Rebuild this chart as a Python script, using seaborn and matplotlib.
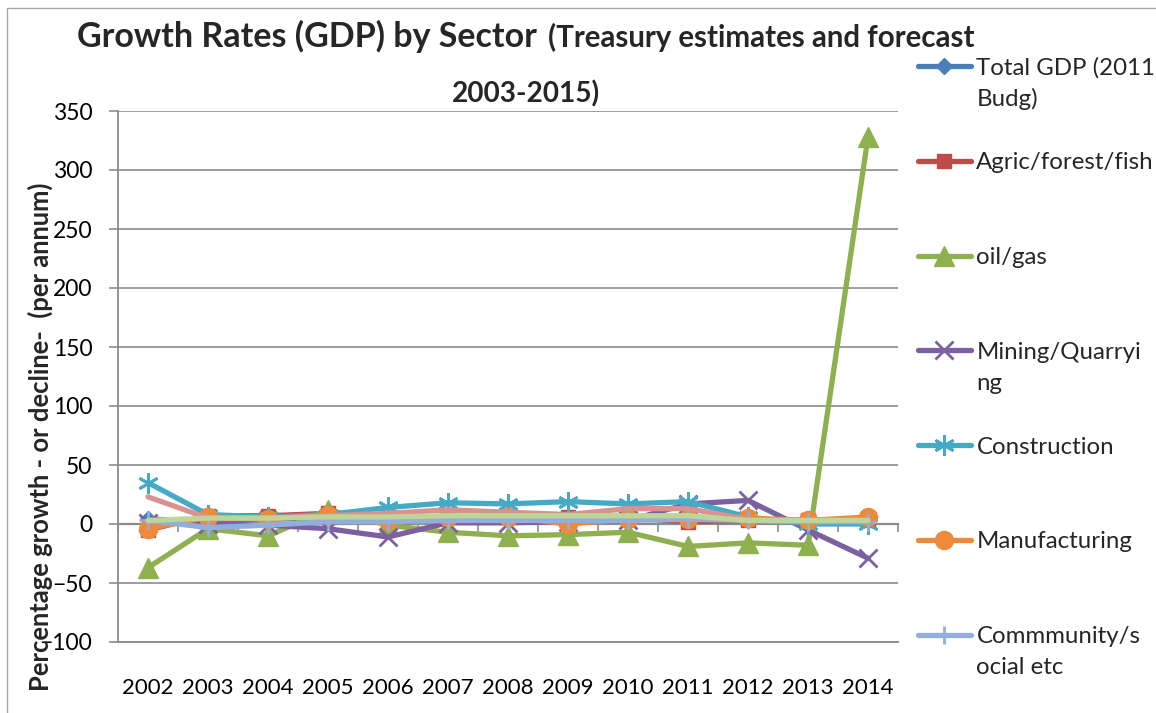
import numpy as np
import pandas as pd
import matplotlib
matplotlib.use("Agg")
import matplotlib.pyplot as plt
import seaborn as sns
from matplotlib.patches import Rectangle

# ---------------- data ----------------
years = ["2002", "2003", "2004", "2005", "2006", "2007", "2008",
         "2009", "2010", "2011", "2012", "2013", "2014"]
total_gdp = [4, 3, 4, 5, 5, 6, 5, 4, 5, 5, 4, 3, 4]
agric = [-5, 7, 7, 9, 0, 6, 6, 6, 5, 2, 3, 3, 3]
oil_gas = [-37, -4, -10, 12, -1, -7, -10, -9, -7, -19, -16, -18, 328]
mining = [1, 0, -1, -4, -11, 1, 1, 2, 3, 17, 20, -5, -29]
construction = [35, 8, 6, 8, 14, 18, 17, 19, 17, 19, 6, 0, 0]
manufacturing = [-4, 6, 4, 8, 3, 6, 6, 0, 4, 4, 5, 3, 6]
community = [3, -3, -1, 2, 2, 3, 3, 3, 3, 4, 3, 2, 2]
unnamed_pink = [23, 5, 5, 7, 9, 12, 10, 8, 13, 13, 4, 3, 3]
unnamed_green = [3, 5, 5, 6, 6, 7, 7, 7, 7, 7, 3, 3, 3]

legend_first = ["Total GDP (2011", "Agric/forest/fish", "oil/gas",
                "Mining/Quarryi", "Construction", "Manufacturing", "Commmunity/s"]
legend_second = ["Budg)", "", "", "ng", "", "", "ocial etc"]

# ---------------- style ----------------
sns.set_theme(style="white")
plt.rcParams["font.family"] = ["Lato", "DejaVu Sans"]

W, H = 1156, 713
fig = plt.figure(figsize=(W / 100, H / 100), dpi=100)
ax = fig.add_axes([118 / W, 1 - 642 / H, 780 / W, 531 / H])

x = np.arange(len(years))
specs = [
    (legend_first[0], total_gdp, "#4A7EBB", "D", 8, 1.0, True),
    (legend_first[1], agric, "#BE4B48", "s", 10, 1.0, True),
    (legend_first[2], oil_gas, "#8FB04E", "^", 14, 1.0, True),
    (legend_first[3], mining, "#7D60A0", "x", 13, 2.0, False),
    (legend_first[4], construction, "#46AAC5", (6, 2, 0), 15, 2.0, False),
    (legend_first[5], manufacturing, "#EE8A3C", "o", 13, 1.0, True),
    (legend_first[6], community, "#92AEDA", "+", 13, 2.0, False),
    ("_nolegend_", unnamed_pink, "#D9928F", None, 0, 1.0, True),
    ("_nolegend_", unnamed_green, "#BED597", None, 0, 1.0, True),
]

for i, (name, vals, col, mk, ms, mew, filled) in enumerate(specs):
    df = pd.DataFrame({"pos": x, "value": vals})
    kw = dict(color=col, lw=3.8, solid_joinstyle="round", solid_capstyle="round",
              label=name, legend=False, zorder=3 + i)
    if mk is not None:
        kw.update(marker=mk, markersize=ms, markeredgewidth=mew,
                  markeredgecolor=col, markerfacecolor=col if filled else "none")
    sns.lineplot(data=df, x="pos", y="value", ax=ax, **kw)

# ---------------- axes ----------------
ymin, ymax = -100, 350
ax.set_ylim(ymin, ymax)
ax.set_xlim(-0.5, len(years) - 0.5)
ax.set_yticks(np.arange(-100, 351, 50))
ax.set_xticks(x)
ax.set_xticklabels(years)
ax.set_xlabel("")
ax.set_ylabel("")
grid_col = "#8C8C8C"
ax.yaxis.grid(True, color=grid_col, lw=1.2)
ax.xaxis.grid(False)
for s in ["top", "right"]:
    ax.spines[s].set_visible(False)
for s in ["left", "bottom"]:
    ax.spines[s].set_color(grid_col)
    ax.spines[s].set_linewidth(1.3)
ax.tick_params(axis="y", direction="out", length=6.5, width=1.2, color=grid_col,
               pad=12, labelsize=16.5, labelcolor="black", left=True)
ax.tick_params(axis="x", length=0, pad=26, labelsize=16, labelcolor="black")

# horizontal category axis crossing at zero
sec = ax.secondary_xaxis((0 - ymin) / (ymax - ymin))
sec.set_xticks(np.arange(-0.5, len(years), 1.0))
sec.tick_params(axis="x", direction="out", length=6, width=1.2, color=grid_col,
                labelbottom=False, labeltop=False)
for s in sec.spines.values():
    s.set_color(grid_col)
    s.set_linewidth(1.6)

# ---------------- legend ----------------
handles, labels = ax.get_legend_handles_labels()
leg_fs = 17.3
leg = fig.legend(handles, labels, loc="upper left",
                 bbox_to_anchor=(918 / W, 1 - 57 / H), frameon=False,
                 fontsize=leg_fs, handlelength=2.2, handletextpad=0.23,
                 labelspacing=3.07, borderpad=0, borderaxespad=0)

# ---------------- titles ----------------
fig.canvas.draw()
r = fig.canvas.get_renderer()

def fit(t, width_px):
    w = t.get_window_extent(r).width
    t.set_fontsize(t.get_fontsize() * width_px / w)

t1 = fig.text(77 / W, 1 - 47 / H, "Growth Rates (GDP) by Sector",
              fontsize=22, fontweight="bold", va="baseline", ha="left")
fit(t1, 459)
t2 = fig.text(548 / W, 1 - 47 / H, "(Treasury estimates and forecast",
              fontsize=18, fontweight="bold", va="baseline", ha="left")
fit(t2, 429)
t3 = fig.text(526 / W, 1 - 102 / H, "2003-2015)",
              fontsize=18, fontweight="bold", va="baseline", ha="center")
fit(t3, 148)

yl = fig.text(40 / W, 1 - 437 / H, "Percentage growth - or decline-  (per annum)",
              fontsize=16, fontweight="bold", rotation=90, va="center", ha="center")
fig.canvas.draw()
w = yl.get_window_extent(r).height
yl.set_fontsize(yl.get_fontsize() * 513 / w)

# continuation lines of wrapped legend labels
fig.canvas.draw()
for txt, extra in zip(leg.get_texts(), legend_second):
    if extra:
        e = txt.get_window_extent(r)
        fig.text(e.x0 / W, (e.y0 - 31) / H, extra, fontsize=leg_fs,
                 va="bottom", ha="left")

# chart border
fig.add_artist(Rectangle((7 / W, -0.1), 2.0, 1 - 8 / H + 0.1, transform=fig.transFigure,
                         fill=False, ec="#A6A6A6", lw=1.0))

fig.savefig("out.png", dpi=100)
